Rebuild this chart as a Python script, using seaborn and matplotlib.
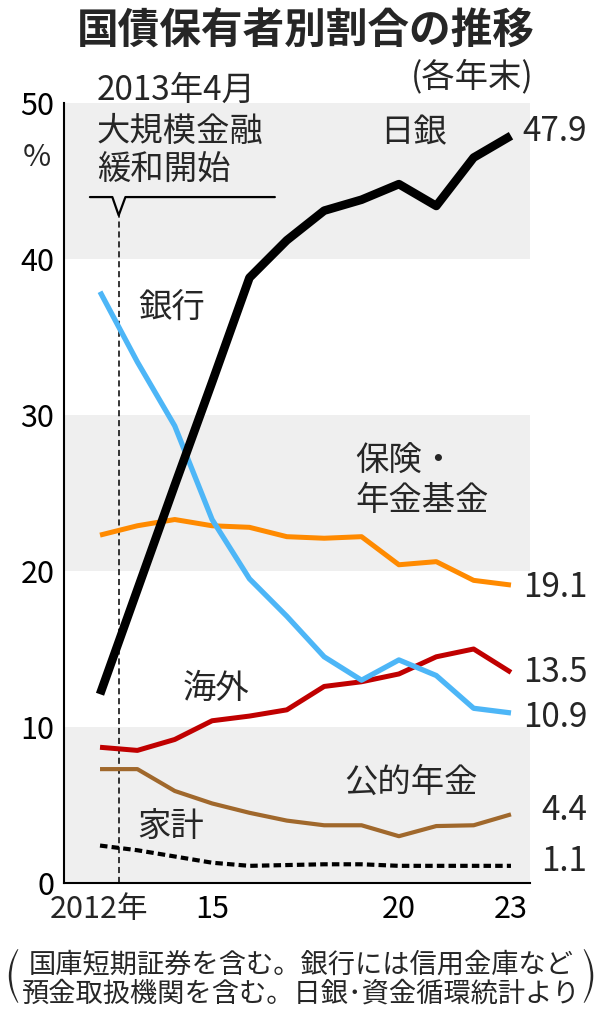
import numpy as np
import pandas as pd
import seaborn as sns
import matplotlib.pyplot as plt
from matplotlib import patheffects

# Data (share of JGB holdings, %, year end)
years = list(range(2012, 2024))
boj = [12.1, 18.8, 25.5, 32.1, 38.8, 41.2, 43.1, 43.8, 44.8, 43.4, 46.5, 47.9]
banks = [37.9, 33.4, 29.3, 23.3, 19.5, 17.1, 14.5, 13.0, 14.3, 13.3, 11.2, 10.9]
insurance = [22.3, 22.9, 23.3, 22.9, 22.8, 22.2, 22.1, 22.2, 20.4, 20.6, 19.4, 19.1]
overseas = [8.7, 8.5, 9.2, 10.4, 10.7, 11.1, 12.6, 12.9, 13.4, 14.5, 15.0, 13.5]
pension = [7.3, 7.3, 5.9, 5.1, 4.5, 4.0, 3.7, 3.7, 3.0, 3.65, 3.7, 4.4]
household = [2.4, 2.1, 1.7, 1.3, 1.1, 1.15, 1.2, 1.2, 1.1, 1.1, 1.1, 1.1]

y_ticks = [0, 10, 20, 30, 40, 50]
x_tick_labels = {2015: "15", 2020: "20", 2023: "23"}
event_x = 2012.5  # 2013年4月 (drawn between the 2012 and 2013 marks)

FONT = ["Noto Sans CJK JP", "DejaVu Sans"]

sns.set_style("white")
plt.rcParams["font.family"] = FONT

fig = plt.figure(figsize=(6.02, 10.24), dpi=100)
ax = fig.add_axes([64 / 602, 141 / 1024, 466 / 602, 780 / 1024])

# gray bands
for lo in (0, 20, 40):
    ax.axhspan(lo, lo + 10, color="#efefef", lw=0, zorder=0)

# series: (values, colour, linewidth, dashes, end-label offset in points)
series = [
    (household, "black", 3.0, (1.8, 1.0), (0, 3)),
    (pension, "#a0682c", 3.0, None, (0, 3)),
    (overseas, "#c00000", 3.6, None, (0, 0)),
    (insurance, "#ff8a00", 3.6, None, (0, -2)),
    (banks, "#4db6f7", 3.8, None, (0, -3)),
    (boj, "black", 6.2, None, (0, 3)),
]

for vals, col, lw, dash, off in series:
    line_ax = sns.lineplot(x=years, y=vals, color=col, lw=lw, ax=ax,
                           solid_capstyle="butt", zorder=3)
    if dash is not None:
        line_ax.lines[-1].set_dashes(dash)
    ax.annotate(f"{vals[-1]:.1f}", xy=(years[-1], vals[-1]),
                xytext=(55 + off[0], off[1]), textcoords="offset points",
                ha="right", va="center", fontsize=24, annotation_clip=False)

ax.set_xlim(2011.036, 2023.509)
ax.set_ylim(0, 50)

for side in ("top", "right"):
    ax.spines[side].set_visible(False)
for side in ("left", "bottom"):
    ax.spines[side].set_color("black")
    ax.spines[side].set_linewidth(1.5)

ax.set_yticks(y_ticks)
ax.set_yticklabels([str(v) for v in y_ticks])
ax.set_xticks(years)
ax.set_xticklabels([x_tick_labels.get(y, "") for y in years])
ax.tick_params(axis="y", direction="in", length=13, width=1.5,
               labelsize=22, pad=7, colors="black")
ax.tick_params(axis="x", direction="in", length=9.4, width=1.5,
               labelsize=22, pad=8, colors="black")
ax.annotate("2012年", xy=(years[0], 0), xycoords=("data", "axes fraction"),
            xytext=(34.6, -8), textcoords="offset points",
            ha="right", va="top", fontsize=22, annotation_clip=False)
ax.set_xlabel("")
ax.set_ylabel("")

# event marker
ax.axvline(event_x, ymin=0, ymax=42.8 / 50, color="black", lw=1.1,
           ls=(0, (4, 2.5)), zorder=2)
ax.plot([2011.73, 2012.33, event_x, 2012.68, 2016.68],
        [43.97, 43.97, 42.8, 43.97, 43.97],
        color="black", lw=1.6, clip_on=False, zorder=4)
ax.text(2011.92, 50.8, "2013年4月", fontsize=24, ha="left", va="center")
ax.text(2011.92, 48.2, "大規模金融", fontsize=24, ha="left", va="center")
ax.text(2011.92, 45.7, "緩和開始", fontsize=24, ha="left", va="center")

# series names
ax.text(2020.38, 48.1, "日銀", fontsize=24, ha="center", va="center")
ax.text(2013.93, 36.9, "銀行", fontsize=24, ha="center", va="center")
ax.text(2018.83, 27.0, "保険・", fontsize=24, ha="left", va="center")
ax.text(2018.83, 24.5, "年金基金", fontsize=24, ha="left", va="center")
ax.text(2015.10, 12.5, "海外", fontsize=24, ha="center", va="center")
ax.text(2020.32, 6.47, "公的年金", fontsize=24, ha="center", va="center")
ax.text(2013.90, 3.65, "家計", fontsize=24, ha="center", va="center")

# title etc.
fig.text(0.508, 1 - 32 / 1024, "国債保有者別割合の推移", fontsize=30,
         fontweight="bold", ha="center", va="center")
fig.text(472 / 602, 1 - 77 / 1024, "(各年末)", fontsize=24,
         ha="center", va="center")
fig.text(37 / 602, 1 - 157 / 1024, "%", fontsize=22, ha="center", va="center")

fig.text(301 / 602, 1 - 965 / 1024, "国庫短期証券を含む。銀行には信用金庫など",
         fontsize=19.6, ha="center", va="center")
fig.text(301 / 602, 1 - 994 / 1024, "預金取扱機関を含む。日銀･資金循環統計より",
         fontsize=19.6, ha="center", va="center")
thin = [patheffects.Normal(), patheffects.Stroke(linewidth=2.5, foreground="white")]
for px, ch in ((14, "("), (588, ")")):
    t = fig.text(px / 602, 1 - 978 / 1024, ch, fontsize=46, family="DejaVu Sans",
                 ha="center", va="center")
    t.set_path_effects(thin)

fig.savefig("out.png", dpi=100, facecolor="white")
